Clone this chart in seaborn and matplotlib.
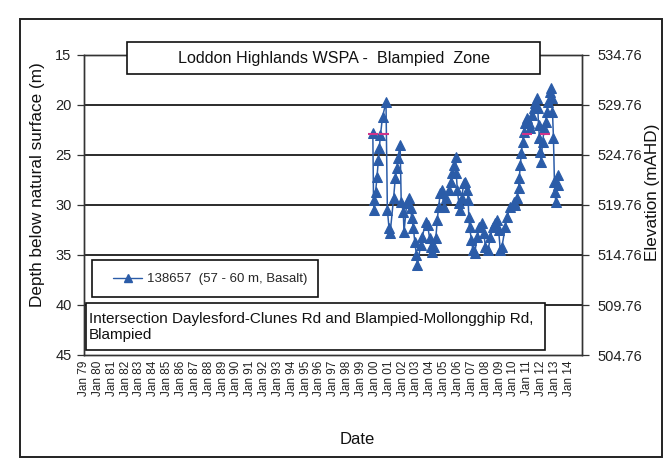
import matplotlib
matplotlib.use('Agg')
import matplotlib.pyplot as plt
import seaborn as sns
import pandas as pd
from matplotlib.patches import Rectangle
from matplotlib.lines import Line2D

sns.set_theme(style='white')
plt.rcParams['font.family'] = ['Liberation Sans', 'DejaVu Sans']

# ---- data ----
years = [1999.85, 1999.90, 1999.95, 2000.05, 2000.15, 2000.25, 2000.32, 2000.40, 2000.55, 2000.80,
         2000.90, 2001.02, 2001.10, 2001.35, 2001.47, 2001.60, 2001.66, 2001.82, 2001.90, 2002.05,
         2002.10, 2002.30, 2002.45, 2002.58, 2002.65, 2002.78, 2002.88, 2003.00, 2003.07, 2003.30,
         2003.42, 2003.66, 2003.80, 2003.95, 2004.05, 2004.15, 2004.25, 2004.40, 2004.50, 2004.60,
         2004.72, 2004.82, 2004.99, 2005.11, 2005.35, 2005.47, 2005.59, 2005.70, 2005.82, 2005.87,
         2005.95, 2006.06, 2006.11, 2006.26, 2006.42, 2006.54, 2006.66, 2006.73, 2006.78, 2006.83,
         2006.97, 2007.07, 2007.21, 2007.38, 2007.55, 2007.74, 2007.86, 2007.98, 2008.17, 2008.34,
         2008.50, 2008.65, 2008.81, 2008.93, 2009.05, 2009.17, 2009.41, 2009.53, 2009.77, 2010.01,
         2010.14, 2010.26, 2010.38, 2010.42, 2010.50, 2010.57, 2010.66, 2010.74, 2010.85, 2010.97,
         2011.09, 2011.21, 2011.33, 2011.45, 2011.57, 2011.69, 2011.76, 2011.81, 2011.88, 2011.93,
         2012.00, 2012.10, 2012.24, 2012.34, 2012.41, 2012.53, 2012.65, 2012.72, 2012.77, 2012.82,
         2012.89, 2012.96, 2013.01, 2013.05, 2013.20, 2013.25]
depths = [22.8, 29.5, 30.5, 28.7, 27.2, 25.5, 24.3, 23.0, 21.2, 19.7,
          30.5, 32.3, 32.8, 29.3, 27.3, 26.3, 25.3, 24.0, 29.7, 30.7,
          32.7, 29.8, 29.3, 30.3, 31.3, 32.3, 33.7, 35.0, 36.0, 34.0,
          33.2, 31.7, 32.0, 33.3, 34.2, 34.7, 34.2, 33.3, 31.5, 30.2,
          28.8, 28.5, 30.2, 29.3, 28.5, 27.7, 26.8, 26.0, 25.2, 26.8,
          28.5, 29.8, 30.5, 29.3, 27.8, 27.7, 28.5, 29.5, 31.2, 32.2,
          33.5, 34.5, 34.8, 33.2, 32.2, 31.8, 32.8, 34.2, 34.5, 33.2,
          32.2, 31.8, 31.5, 32.5, 34.5, 34.2, 32.2, 31.2, 30.2, 29.7,
          30.0, 29.3, 28.3, 27.3, 26.0, 24.8, 23.7, 22.7, 21.8, 21.3,
          21.8, 22.3, 21.0, 20.3, 19.8, 19.3, 20.3, 22.0, 23.3, 24.7,
          25.7, 23.7, 22.3, 21.7, 20.7, 19.7, 18.7, 18.3, 19.3, 20.7,
          23.3, 27.7, 28.7, 29.7, 27.0, 28.0]

pink_years = [1999.85, 2000.65, 2011.00, 2012.25]
pink_depths = [22.9, 22.9, 22.9, 22.9]

series_label = '138657  (57 - 60 m, Basalt)'
title_text = 'Loddon Highlands WSPA -  Blampied  Zone'
note_text = 'Intersection Daylesford-Clunes Rd and Blampied-Mollongghip Rd,\nBlampied'

year_ticks = list(range(1979, 2015))
year_labels = ['Jan %02d' % (y % 100) for y in year_ticks]
depth_ticks = [15, 20, 25, 30, 35, 40, 45]
elev_ticks = [504.76, 509.76, 514.76, 519.76, 524.76, 529.76, 534.76]

df = pd.DataFrame({'year': years, 'depth': depths})
df_pink = pd.DataFrame({'year': pink_years, 'depth': pink_depths})

W, H = 667, 468
fig = plt.figure(figsize=(W / 100, H / 100), dpi=100)
ax = fig.add_axes([84 / W, (H - 355) / H, 498 / W, 300 / H])

blue = '#2b5ca8'
sns.lineplot(data=df, x='year', y='depth', ax=ax, color=blue, linewidth=1.1,
             marker='^', markersize=7, markeredgecolor=blue, markerfacecolor=blue,
             sort=False, legend=False, zorder=3)
sns.scatterplot(data=df_pink, x='year', y='depth', ax=ax, marker='_', s=45,
                color='#d0338a', linewidth=1.5, legend=False, zorder=4)

ax.set_xlim(1979, 2014.95)
ax.set_ylim(45, 15)
ax.set_xticks(year_ticks)
ax.set_xticklabels(year_labels)
ax.set_yticks(depth_ticks)
ax.set_yticklabels([str(d) for d in depth_ticks])
ax.set_xlabel('')
ax.set_ylabel('')
for d in depth_ticks[1:-1]:
    ax.axhline(d, color='#1a1a1a', lw=1.3, zorder=1)
for s in ax.spines.values():
    s.set_color('#333333')
    s.set_linewidth(1.0)
ax.tick_params(axis='x', direction='inout', length=6, width=0.9, color='#333333',
               labelsize=8.5, labelrotation=90, pad=1, labelcolor='#222222')
ax.tick_params(axis='y', direction='out', length=5, width=0.9, color='#333333',
               labelsize=10.5, pad=4, labelcolor='#222222', left=True)

ax2 = ax.twinx()
ax2.set_ylim(elev_ticks[0], elev_ticks[-1])
ax2.set_yticks(elev_ticks)
ax2.set_yticklabels(['%.2f' % e for e in elev_ticks])
ax2.tick_params(axis='y', direction='out', length=5, width=0.9, color='#333333',
                labelsize=10.5, pad=6, labelcolor='#222222', right=True)
for s in ax2.spines.values():
    s.set_color('#333333')
    s.set_linewidth(1.0)
ax2.grid(False)

def px_rect(x0, y0, x1, y1, lw=1.2, z=2, fc='white', ec='#111111'):
    r = Rectangle((x0 / W, (H - y1) / H), (x1 - x0) / W, (y1 - y0) / H,
                  transform=fig.transFigure, facecolor=fc, edgecolor=ec,
                  linewidth=lw, zorder=z)
    fig.patches.append(r)

# outer chart frame
px_rect(20, 19, 662, 457, lw=1.4, z=0.5, fc='none', ec='#222222')
# title box
px_rect(127, 42, 540, 74)
fig.text(334 / W, 1 - 58 / H, title_text, ha='center', va='center', fontsize=11.6,
         color='#111111', zorder=6)
# legend box
px_rect(92, 260, 318, 297)
fig.legend(handles=[Line2D([0], [0], color=blue, lw=1, marker='^', markersize=5.5,
                           markerfacecolor=blue, markeredgecolor=blue)],
           labels=[series_label], loc='center left',
           bbox_to_anchor=(113 / W, 1 - 279 / H), bbox_transform=fig.transFigure,
           frameon=False, fontsize=9.5, handlelength=2.2, handletextpad=0.35,
           borderpad=0, borderaxespad=0)
# note box
px_rect(86, 303, 545, 350)
fig.text(89 / W, 1 - 327 / H, note_text, ha='left', va='center', fontsize=11,
         color='#111111', linespacing=1.1, zorder=6)

fig.text(38 / W, 1 - 185 / H, 'Depth below natural surface (m)', rotation=90,
         ha='center', va='center', fontsize=12.3, color='#111111')
fig.text(652 / W, 1 - 192 / H, 'Elevation (mAHD)', rotation=90,
         ha='center', va='center', fontsize=12.3, color='#111111')
fig.text(357 / W, 1 - 440 / H, 'Date', ha='center', va='center', fontsize=12,
         color='#111111')

fig.savefig('out.png', dpi=100, facecolor='white')
